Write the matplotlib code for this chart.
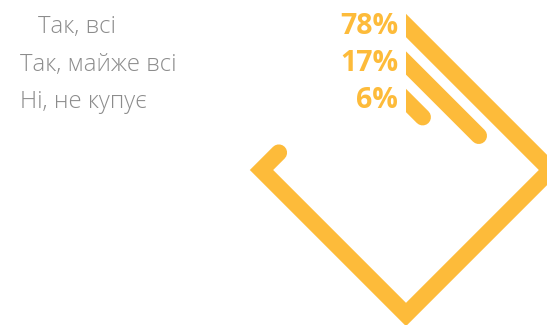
import matplotlib.pyplot as plt
from matplotlib.patches import Rectangle

# дані
answers = ["Так, всі", "Так, майже всі", "Ні, не купує"]
shares = [78, 17, 6]

ORANGE = "#FDBB3A"
GREY = "#8C8C8C"

W, H = 547, 325
cx, cy = 406, 170          # центр ромба
r_outer, r_step = 144.5, 37.5
bar_w = 16.5               # товщина смуги, px
label_x = [38, 20, 20]
pct_x = 398


def diamond_path(r, frac, back=14):
    """Точки вздовж ромба за годинниковою стрілкою від верхньої вершини."""
    corners = [(cx, cy - r), (cx + r, cy), (cx, cy + r), (cx - r, cy), (cx, cy - r)]
    xs = [cx - back, cx]
    ys = [cy - r - back, cy - r]
    left = frac * 4
    for i in range(4):
        if left <= 0:
            break
        (x0, y0), (x1, y1) = corners[i], corners[i + 1]
        t = min(left, 1.0)
        xs.append(x0 + (x1 - x0) * t)
        ys.append(y0 + (y1 - y0) * t)
        left -= 1
    return xs, ys


fig = plt.figure(figsize=(W / 100, H / 100), dpi=100)
ax = fig.add_axes([0, 0, 1, 1])
ax.set_xlim(0, W)
ax.set_ylim(H, 0)
ax.axis("off")

lw = bar_w * 72 / 100
for i, (name, val) in enumerate(zip(answers, shares)):
    r = r_outer - i * r_step
    xs, ys = diamond_path(r, val / 100)
    ax.plot(xs, ys, color=ORANGE, lw=lw, solid_capstyle="round",
            solid_joinstyle="miter", zorder=2)
    row_y = cy - r
    ax.text(label_x[i], row_y + 8, name, fontsize=17.2, color=GREY,
            family="Open Sans", fontweight="light", ha="left", va="baseline", zorder=4)
    ax.text(pct_x, row_y + 8, f"{val}%", fontsize=20.5, color=ORANGE,
            family="Open Sans", fontweight="bold", ha="right", va="baseline", zorder=4)

# вертикальний зріз на початку смуг
ax.add_patch(Rectangle((cx - 40, 0), 40, cy - r_outer + 2 * r_step + 20,
                       facecolor="white", edgecolor="none", zorder=3))

fig.savefig("out.png", dpi=100, facecolor="white")
